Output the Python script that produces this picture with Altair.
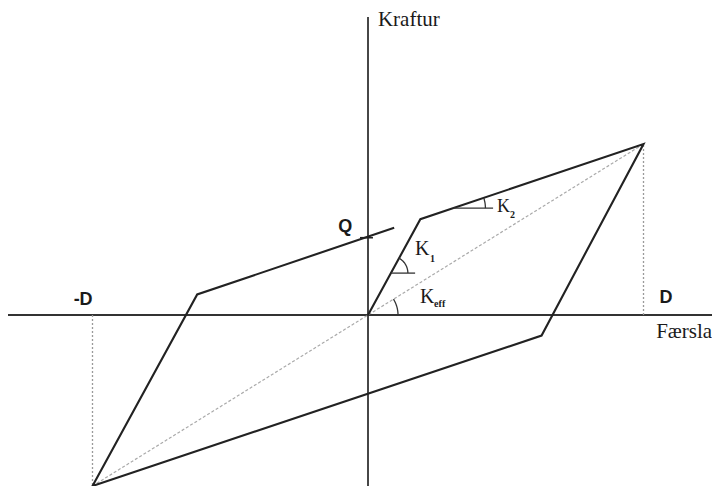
import altair as alt
import pandas as pd
import numpy as np

# ---- data (displacement units: D = 100, force units: F(D) = 100) ----
loop_x = [0, 19, 100, 63, -100, -62, 9.5]
loop_y = [0, 56, 100, -12, -100, 12, 51]

diag_x = [-100, 100]
diag_y = [-100, 100]

D_pos = 100
D_neg = -100
F_pos = 100
F_neg = -100
Q_val = 45.8

# angle markers: vertex x, vertex y, horizontal leg end x, radius(px), slope of other leg (data units)
ang_names = ["K1", "K2", "Keff"]
ang_vx = [8.3, 31.0, 0.0]
ang_vy = [24.5, 62.5, 0.0]
ang_hx = [17.1, 45.4, 0.0]
ang_r = [17, 32, 30]
ang_slope = [56 / 19, 44 / 81, 1.0]

# labels
big_text = ["Kraftur", "Færsla"]
big_x = [3.6, 104.6]
big_y = [169.0, -13.5]

bold_text = ["D", "-D", "Q"]
bold_x = [108.2, -103.4, -8.3]
bold_y = [7.0, 5.8, 48.5]

k_text = ["K", "K", "K"]
k_x = [17.1, 46.8, 18.9]
k_y = [35.1, 60.0, 7.0]
k_size = [20, 18, 20]

sub_text = ["1", "2", "eff"]
sub_x = [22.5, 51.5, 24.0]
sub_y = [31.0, 56.8, 4.6]

# ---- layout ----
W, H = 704, 478
x_dom = [-130.67, 124.86]
y_dom = [-100.0, 179.53]
sx = W / (x_dom[1] - x_dom[0])
sy = H / (y_dom[1] - y_dom[0])

xs = alt.Scale(domain=x_dom, nice=False, zero=False)
ys = alt.Scale(domain=y_dom, nice=False, zero=False)

def X(f="x"):
    return alt.X(f + ":Q", scale=xs, axis=None)

def Y(f="y"):
    return alt.Y(f + ":Q", scale=ys, axis=None)

# axes
axes_df = pd.DataFrame({
    "x": [x_dom[0], 0.0], "x2": [x_dom[1], 0.0],
    "y": [0.0, y_dom[0]], "y2": [0.0, 174.3],
})
axes = alt.Chart(axes_df).mark_rule(color="#333333", strokeWidth=1.8).encode(
    x=X(), x2="x2:Q", y=Y(), y2="y2:Q")

# dotted verticals at +/-D
vd_df = pd.DataFrame({"x": [D_pos, D_neg], "y": [0, 0], "y2": [F_pos, F_neg]})
vdots = alt.Chart(vd_df).mark_rule(color="#9a9a9a", strokeWidth=1.3, strokeDash=[2, 2]).encode(
    x=X(), y=Y(), y2="y2:Q")

# diagonal (effective stiffness)
diag_df = pd.DataFrame({"x": diag_x, "y": diag_y})
diag = alt.Chart(diag_df).mark_line(color="#aaaaaa", strokeWidth=1.2, strokeDash=[3, 2]).encode(
    x=X(), y=Y())

# hysteresis loop
loop_df = pd.DataFrame({"x": loop_x, "y": loop_y, "o": range(len(loop_x))})
loop = alt.Chart(loop_df).mark_line(color="#222222", strokeWidth=2.1).encode(
    x=X(), y=Y(), order="o:Q")

# Q tick
q_df = pd.DataFrame({"x": [-2.9], "x2": [1.8], "y": [Q_val - 0.6]})
qtick = alt.Chart(q_df).mark_rule(color="#222222", strokeWidth=1.6).encode(
    x=X(), x2="x2:Q", y=Y())

# angle markers: horizontal legs + arcs
leg_rows = [{"x": vx, "x2": hx, "y": vy} for vx, vy, hx in zip(ang_vx, ang_vy, ang_hx) if hx != vx]
legs = alt.Chart(pd.DataFrame(leg_rows)).mark_rule(color="#333333", strokeWidth=1.3).encode(
    x=X(), x2="x2:Q", y=Y())

arc_rows = []
for name, vx, vy, r, s in zip(ang_names, ang_vx, ang_vy, ang_r, ang_slope):
    a = np.arctan(s * sy / sx)
    for i, t in enumerate(np.linspace(0, a, 20)):
        arc_rows.append({"g": name, "o": i, "x": vx + r * np.cos(t) / sx, "y": vy + r * np.sin(t) / sy})
arcs = alt.Chart(pd.DataFrame(arc_rows)).mark_line(color="#333333", strokeWidth=1.3).encode(
    x=X(), y=Y(), detail="g:N", order="o:Q")

# texts
big = alt.Chart(pd.DataFrame({"x": big_x, "y": big_y, "t": big_text})).mark_text(
    font="Liberation Serif", fontSize=21, align="left", baseline="alphabetic", color="#1a1a1a").encode(
    x=X(), y=Y(), text="t:N")

bold = alt.Chart(pd.DataFrame({"x": bold_x, "y": bold_y, "t": bold_text})).mark_text(
    font="Liberation Sans", fontSize=18, fontWeight="bold", align="center", baseline="alphabetic",
    color="#1a1a1a").encode(x=X(), y=Y(), text="t:N")

ks = alt.Chart(pd.DataFrame({"x": k_x, "y": k_y, "t": k_text, "s": k_size})).mark_text(
    font="Liberation Serif", align="left", baseline="alphabetic", color="#1a1a1a").encode(
    x=X(), y=Y(), text="t:N", size=alt.Size("s:Q", scale=None, legend=None))

subs = alt.Chart(pd.DataFrame({"x": sub_x, "y": sub_y, "t": sub_text})).mark_text(
    font="Liberation Serif", fontSize=10, fontWeight="bold", align="left", baseline="alphabetic",
    color="#1a1a1a").encode(x=X(), y=Y(), text="t:N")

chart = alt.layer(axes, vdots, diag, loop, qtick, legs, arcs, big, bold, ks, subs).properties(
    width=W, height=H, padding=0,
    autosize=alt.AutoSizeParams(type="none"),
    background="white",
).configure_view(stroke=None)

chart.save("out.html", embed_options={"renderer": "svg", "actions": False})
